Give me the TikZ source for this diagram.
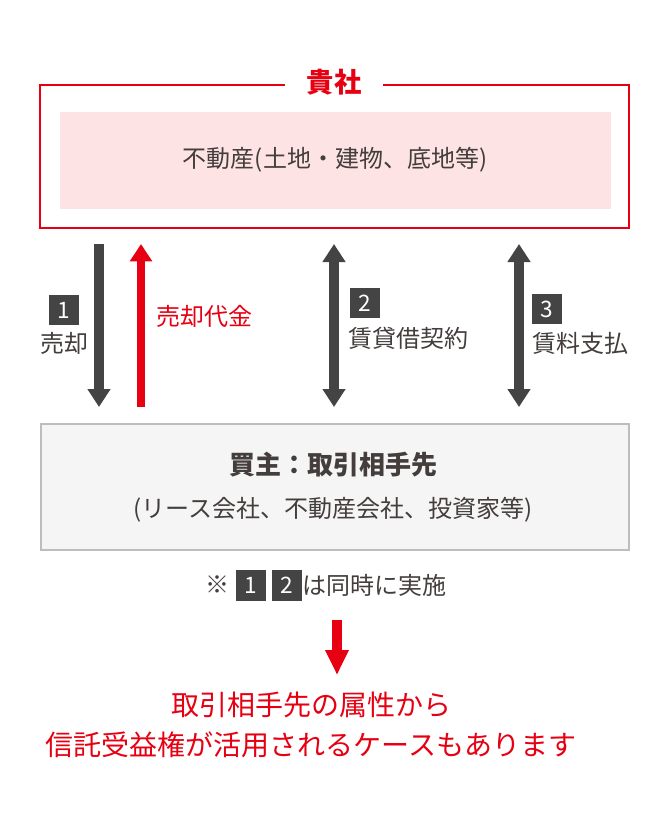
\documentclass[tikz,border=0pt]{standalone}
\usepackage{fontspec}
\setmainfont{Noto Sans CJK JP}
\usetikzlibrary{arrows.meta, positioning}

\definecolor{brandred}{HTML}{E60012}
\definecolor{inkgray}{HTML}{433D3C}
\definecolor{bargray}{HTML}{444444}
\definecolor{pinkfill}{HTML}{FDE3E4}
\definecolor{buyerfill}{HTML}{F5F5F5}
\definecolor{buyerline}{HTML}{BDBDBD}

\tikzset{
  bodytext/.style={text=inkgray, font=\fontsize{18}{22}\selectfont, inner sep=0pt},
  numbox/.style={fill=bargray, text=white, minimum width=22.5pt, minimum height=22.5pt,
    inner sep=0pt, font=\fontsize{17}{20}\selectfont},
  darkbar/.style={draw=bargray, line width=7pt},
  redbar/.style={draw=brandred, line width=6.5pt},
  bartip/.tip={Triangle[width=16.5pt, length=13.5pt]}
}

\begin{document}
\begin{tikzpicture}[x=0.75pt, y=-0.75pt]
\useasboundingbox (0,0) rectangle (670,827);

% seller frame
\draw[brandred, line width=1.6pt] (40,85) rectangle (629,228);
\node[fill=white, text=brandred, inner xsep=16pt, inner ysep=2pt,
  font=\fontsize{20.5}{24}\selectfont\bfseries] (kisha) at (334,82) {貴社};
\fill[pinkfill] (60,112) rectangle (611,209);
\node[bodytext] (asset) at (335,160) {不動産(土地・建物、底地等)};

% buyer box
\draw[buyerline, fill=buyerfill, line width=1.5pt] (41,424) rectangle (629,550);
\node[bodytext, font=\fontsize{19.5}{22}\selectfont\bfseries] (buyer) at (333,465) {買主：取引相手先};
\node[bodytext] (buyerkind) at (333,510) {(リース会社、不動産会社、投資家等)};

% arrow ends
\coordinate (sellT) at (99,244);
\coordinate (sellB) at (99,407);
\coordinate (payT) at (141,244);
\coordinate (payB) at (141,407);
\coordinate (leaseT) at (334,244);
\coordinate (leaseB) at (334,407);
\coordinate (rentT) at (519,244);
\coordinate (rentB) at (519,407);

\draw[darkbar, -{bartip}] (sellT) -- (sellB);
\draw[redbar, -{Triangle[width=16pt, length=13pt]}] (payB) -- (payT);
\draw[darkbar, {bartip}-{bartip}] (leaseT) -- (leaseB);
\draw[darkbar, {bartip}-{bartip}] (rentT) -- (rentB);

% step labels
\node[numbox] (n1) at (64,310) {1};
\node[bodytext] (sell) at (64,343) {売却};
\node[bodytext, text=brandred, anchor=west] (pay) at (156,316) {売却代金};
\node[numbox] (n2) at (365,303) {2};
\node[bodytext, anchor=west] (lease) at (348,338) {賃貸借契約};
\node[numbox] (n3) at (547,309) {3};
\node[bodytext, anchor=west] (rent) at (532,343) {賃料支払};

% note
\node[bodytext] (mark) at (217,585) {※};
\node[numbox, minimum height=23.25pt] (m1) at (251,585) {1};
\node[numbox, minimum height=23.25pt] (m2) at (287,585) {2};
\node[bodytext, anchor=west] (note) at (302,585) {は同時に実施};

% result
\coordinate (resT) at (337,620);
\coordinate (resB) at (337,675);
\draw[redbar, line width=7.5pt, -{Triangle[width=16.5pt, length=18.75pt]}] (resT) -- (resB);
\node[text=brandred, align=center, inner sep=0pt, font=\fontsize{21}{30}\selectfont] (result) at (311,725)
  {取引相手先の属性から\\信託受益権が活用されるケースもあります};

\end{tikzpicture}
\end{document}
